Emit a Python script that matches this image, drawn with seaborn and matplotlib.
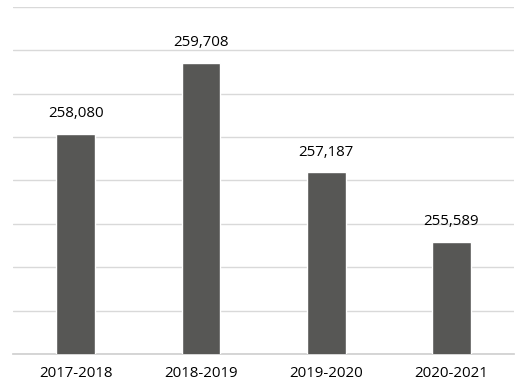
import matplotlib
matplotlib.use("Agg")
import matplotlib.pyplot as plt
import seaborn as sns
import pandas as pd

categories = ["2017-2018", "2018-2019", "2019-2020", "2020-2021"]
values = [258080, 259708, 257187, 255589]
labels = ["258,080", "259,708", "257,187", "255,589"]

sns.set_theme(style="white")
plt.rcParams['font.family'] = ['Open Sans', 'DejaVu Sans']

df = pd.DataFrame({"period": categories, "value": values})

fig = plt.figure(figsize=(5.24, 3.86), dpi=100)
ax = fig.add_axes([0.025, 0.083, 0.956, 0.899])
sns.barplot(data=df, x="period", y="value", color="#575755", width=0.31,
            saturation=1, ax=ax, zorder=3)
ax.set_ylim(253000, 261000)
ax.set_yticks(range(253000, 261001, 1000))
ax.yaxis.grid(True, color="#d9d9d9", linewidth=1, zorder=0)
ax.set_yticklabels([])
ax.tick_params(axis="y", length=0)
ax.tick_params(axis="x", length=0, pad=9, labelsize=10.8, colors="#000000")
for s in ["top", "right", "left"]:
    ax.spines[s].set_visible(False)
ax.spines["bottom"].set_color("#d0d0d0")
ax.set_xlabel("")
ax.set_ylabel("")
for i, (v, t) in enumerate(zip(values, labels)):
    ax.annotate(t, (i, v), xytext=(0, 9), textcoords="offset points",
                ha="center", va="bottom", fontsize=10.8, color="#000000")
fig.savefig("out.png", dpi=100)
